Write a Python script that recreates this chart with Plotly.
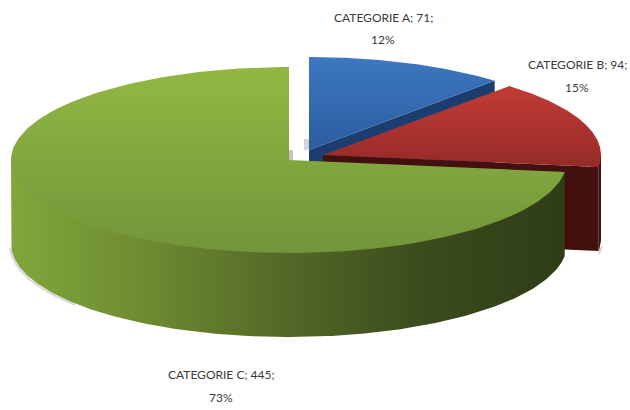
import numpy as np
import plotly.graph_objects as go

categories = ["CATEGORIE A", "CATEGORIE B", "CATEGORIE C"]
values = [71, 94, 445]

top_colors = [["#2b5c9e", "#3d78c2"], ["#962a27", "#c23b36"], ["#72953a", "#92b843"]]
cut_colors = ["#1b3d70", "#431010", "#33421a"]
centers = [(309, 150), (323, 155), (289, 160)]
label_pos = [(383, 17, 39), (577, 64, 87), (221, 374, 397)]
RX, RY, DEPTH = 278, 93, 84

total = sum(values)
edges = np.concatenate([[0], np.cumsum(values)]) / total * 2 * np.pi


def arc(c, a0, a1, dy=0, n=200, k=1.0):
    t = np.linspace(a0, a1, n)
    return c[0] + k * RX * np.sin(t), c[1] - k * RY * np.cos(t) + dy


def poly(fig, xs, ys, colors, kind):
    fig.add_trace(go.Scatter(
        x=np.append(xs, xs[0]), y=np.append(ys, ys[0]), mode="lines", fill="toself",
        line=dict(width=0), hoverinfo="skip", showlegend=False,
        fillgradient=dict(type=kind, colorscale=[[i / (len(colors) - 1), c] for i, c in enumerate(colors)]),
    ))


def wedge(fig, c, a0, a1, colors):
    x, y = arc(c, a0, a1)
    poly(fig, np.r_[c[0], x], np.r_[c[1], y], colors, "vertical")


def rim_wall(fig, c, a0, a1, colors):
    # the upper edge runs a little inside the top face so no seam shows between them
    x, y = arc(c, a0, a1)
    xi, yi = arc(c, a0, a1, k=0.97)
    xb, yb = arc(c, a0, a1, DEPTH)
    poly(fig, np.r_[x[0], xi, x[-1], xb[::-1]], np.r_[y[0], yi, y[-1], yb[::-1]], colors, "horizontal")


def cut_wall(fig, c, a, color):
    x, y = c[0] + RX * np.sin(a), c[1] - RY * np.cos(a)
    poly(fig, np.array([c[0], x, x, c[0]], float), np.array([c[1], y, y + DEPTH, c[1] + DEPTH], float),
         [color, color], "horizontal")


def shadow(fig, c, a0, a1, dx, dy):
    x, y = arc(c, a0, a1, DEPTH)
    fig.add_trace(go.Scatter(x=x + dx, y=y + dy, mode="lines", hoverinfo="skip", showlegend=False,
                             line=dict(color="rgba(140,140,150,0.35)", width=2)))


fig = go.Figure()

shadow(fig, centers[2], np.radians(230), np.radians(268), -1, 1)
shadow(fig, centers[1], np.radians(95), np.radians(100), 2, -1)
fig.add_trace(go.Scatter(x=[289, 293, 293, 289, 289], y=[150, 150, 160, 160, 150], mode="lines", fill="toself",
                         line=dict(width=0), fillcolor="#c4c4c4", hoverinfo="skip", showlegend=False))
fig.add_trace(go.Scatter(x=[304, 309, 309, 304, 304], y=[139, 139, 150, 150, 139], mode="lines", fill="toself",
                         line=dict(width=0), fillcolor="#d4d4d4", hoverinfo="skip", showlegend=False))

cut_wall(fig, centers[0], edges[1], cut_colors[0])
wedge(fig, centers[0], edges[0], edges[1], top_colors[0])
cut_wall(fig, centers[1], edges[2], cut_colors[1])
rim_wall(fig, centers[1], np.pi / 2, edges[2], [cut_colors[1], cut_colors[1]])
wedge(fig, centers[1], edges[1], edges[2], top_colors[1])
rim_wall(fig, centers[2], edges[2], 1.5 * np.pi, ["#81a73b", "#6d8a30", "#526826", "#3b4b1c", "#2f3d16"])
wedge(fig, centers[2], edges[2], edges[3], top_colors[2])

for cat, v, (lx, y1, y2) in zip(categories, values, label_pos):
    for txt, y in ((f"{cat}; {v};", y1), (f"{round(v / total * 100)}%", y2)):
        fig.add_annotation(x=lx, y=y, text=txt, showarrow=False,
                           font=dict(family="Lato", size=12, color="#3a3a3a"))

fig.update_layout(
    width=630, height=410, margin=dict(l=0, r=0, t=0, b=0),
    paper_bgcolor="white", plot_bgcolor="white", showlegend=False,
    xaxis=dict(range=[0, 630], visible=False, fixedrange=True),
    yaxis=dict(range=[410, 0], visible=False, fixedrange=True),
)
fig.write_html("out.html", config={"displayModeBar": False},
               post_script="document.body.style.margin='0';document.body.style.overflow='hidden';")
